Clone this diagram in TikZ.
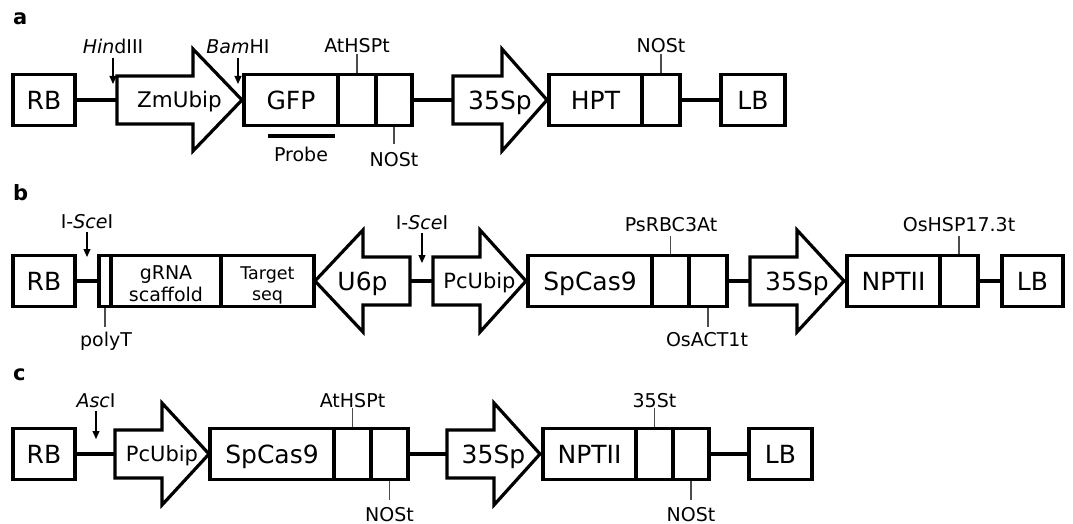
\documentclass[tikz,border=0pt]{standalone}
\usepackage{fontspec}
\setmainfont{DejaVu Sans}[ItalicFont={DejaVu Sans Oblique},BoldFont={DejaVu Sans Bold}]
\usetikzlibrary{arrows.meta}
\tikzset{
 cell/.style={draw, line width=3.2pt, inner sep=0pt, minimum height=51pt, font=\fontsize{25}{30}\selectfont, text height=18.2pt, text depth=0pt},
 promo/.style={draw, line width=3.2pt, line join=miter},
 ptext/.style={inner sep=0pt, font=\fontsize{21}{25}\selectfont, text height=15.3pt, text depth=0pt},
 ztext/.style={inner sep=0pt, font=\fontsize{21.5}{25}\selectfont, text height=15.7pt, text depth=0pt},
 bigtext/.style={inner sep=0pt, font=\fontsize{25}{30}\selectfont, text height=18.2pt, text depth=0pt},
 lbl/.style={inner sep=0pt, anchor=base, font=\fontsize{19}{22}\selectfont},
 slbl/.style={inner sep=0pt, anchor=base, font=\fontsize{17.5}{21}\selectfont},
 link/.style={line width=3.2pt},
 tick/.style={line width=1.3pt, draw=black!70},
 site/.style={line width=1.2pt, -{Triangle[length=8pt,width=7pt]}},
 probebar/.style={line width=4.5pt},
 panel/.style={inner sep=0pt, anchor=base west, font=\fontsize{21}{25}\selectfont\bfseries},
}
\newcommand\promright[7]{%
 \draw[promo] (#2,#5-24) -- (#3,#5-24) -- (#3,#5-51) -- (#4,#5) -- (#3,#5+51) -- (#3,#5+24) -- (#2,#5+24) -- cycle;
 \coordinate (#1T) at (#2,#5);
 \node[#6] (#1) at ({(#2+#4)/2},#5) {#7};}
\newcommand\promleft[7]{%
 \draw[promo] (#4,#5-24) -- (#3,#5-24) -- (#3,#5-51) -- (#2,#5) -- (#3,#5+51) -- (#3,#5+24) -- (#4,#5+24) -- cycle;
 \coordinate (#1T) at (#4,#5);
 \node[#6] (#1) at ({(#2+#4)/2},#5) {#7};}
\begin{document}
\begin{tikzpicture}[x=1pt,y=-1pt]
\useasboundingbox (0,0) rectangle (1073,524);
% ---------- row a ----------
\node[panel] (pa) at (13,25) {a};
\node[cell, minimum width=62pt] (aRB) at (44,100) {RB};
\promright{aZm}{117}{193}{242}{100}{ztext}{ZmUbip}
\node[cell, minimum width=94pt] (aGFP) at (291,100) {GFP};
\node[cell, minimum width=38pt] (aT1) at (357,100) {};
\node[cell, minimum width=36pt] (aT2) at (394,100) {};
\promright{aS}{453}{502}{547}{100}{bigtext}{35Sp}
\node[cell, minimum width=93pt] (aHPT) at (595.5,100) {HPT};
\node[cell, minimum width=38pt] (aT3) at (661,100) {};
\node[cell, minimum width=64pt] (aLB) at (753,100) {LB};
\draw[link] (aRB.east) -- (aZmT);
\draw[link] (aT2.east) -- (aST);
\draw[link] (aT3.east) -- (aLB.west);
\node[lbl] (hind) at (113,54) {\textit{Hin}dIII};
\coordinate (hindP) at (113,84);
\draw[site] ([yshift=-4pt]hind.base) -- (hindP);
\node[lbl] (bam) at (238,54) {\textit{Bam}HI};
\coordinate (bamP) at (238,84);
\draw[site] ([yshift=-4pt]bam.base) -- (bamP);
\node[lbl] (athspA) at (357,53) {AtHSPt};
\draw[tick] (aT1.north) -- ++(0,-19);
\node[lbl] (nosA1) at (394,166.5) {NOSt};
\draw[tick] (aT2.south) -- ++(0,17);
\coordinate (prL) at (268,136);
\coordinate (prR) at (335,136);
\draw[probebar] (prL) -- (prR);
\node[lbl] (probe) at (301,161) {Probe};
\node[lbl] (nosA2) at (661,53) {NOSt};
\draw[tick] (aT3.north) -- ++(0,-19);
% ---------- row b ----------
\node[panel] (pb) at (13,200) {b};
\node[cell, minimum width=62pt] (bRB) at (44,281) {RB};
\node[cell, minimum width=12pt] (bPT) at (105,281) {};
\node[cell, minimum width=110pt] (bG) at (166,281) {};
\node[cell, minimum width=93pt] (bTS) at (267.5,281) {};
\promleft{bU}{315}{363}{410}{281}{bigtext}{U6p}
\promright{bPc}{433}{480}{526}{281}{ptext}{PcUbip}
\node[cell, minimum width=124pt] (bCas) at (590,281) {SpCas9};
\node[cell, minimum width=37pt] (bT1) at (670.5,281) {};
\node[cell, minimum width=38pt] (bT2) at (708,281) {};
\promright{bS}{750}{797}{844}{281}{bigtext}{35Sp}
\node[cell, minimum width=93pt] (bNPT) at (893.5,281) {NPTII};
\node[cell, minimum width=38pt] (bT3) at (959,281) {};
\node[cell, minimum width=61pt] (bLB) at (1032.5,281) {LB};
\draw[link] (bRB.east) -- (bPT.west);
\draw[link] (bUT) -- (bPcT);
\draw[link] (bT2.east) -- (bST);
\draw[link] (bT3.east) -- (bLB.west);
\node[lbl] (isce1) at (87,228) {I-\textit{Sce}I};
\coordinate (isce1P) at (87,257);
\draw[site] ([yshift=-4pt]isce1.base) -- (isce1P);
\node[lbl] (polyT) at (106,346) {polyT};
\draw[tick] (bPT.south) -- ++(0,19);
\node[lbl] (gRNA) at (166,279) {gRNA};
\node[lbl] (scaf) at (166,301) {scaffold};
\node[slbl] (targ) at (267.5,279) {Target};
\node[slbl] (seq) at (267.5,300) {seq};
\node[lbl] (isce2) at (422,229) {I-\textit{Sce}I};
\coordinate (isce2P) at (422,263);
\draw[site] ([yshift=-4pt]isce2.base) -- (isce2P);
\node[lbl] (psrbc) at (671,231) {PsRBC3At};
\draw[tick] (bT1.north) -- ++(0,-18);
\node[lbl] (osact) at (707,346) {OsACT1t};
\draw[tick] (bT2.south) -- ++(0,19);
\node[lbl] (oshsp) at (959,231) {OsHSP17.3t};
\draw[tick] (bT3.north) -- ++(0,-18);
% ---------- row c ----------
\node[panel] (pc) at (13,380) {c};
\node[cell, minimum width=62pt] (cRB) at (44,454) {RB};
\promright{cPc}{115}{162}{209}{454}{ptext}{PcUbip}
\node[cell, minimum width=124pt] (cCas) at (272,454) {SpCas9};
\node[cell, minimum width=37pt] (cT1) at (352.5,454) {};
\node[cell, minimum width=37pt] (cT2) at (389.5,454) {};
\promright{cS}{447}{494}{540}{454}{bigtext}{35Sp}
\node[cell, minimum width=93pt] (cNPT) at (589.5,454) {NPTII};
\node[cell, minimum width=37pt] (cT3) at (654.5,454) {};
\node[cell, minimum width=36pt] (cT4) at (691,454) {};
\node[cell, minimum width=63pt] (cLB) at (780.5,454) {LB};
\draw[link] (cRB.east) -- (cPcT);
\draw[link] (cT2.east) -- (cST);
\draw[link] (cT4.east) -- (cLB.west);
\node[lbl] (asc) at (96,407) {\textit{Asc}I};
\coordinate (ascP) at (96,439);
\draw[site] ([yshift=-4pt]asc.base) -- (ascP);
\node[lbl] (athspC) at (352.5,407) {AtHSPt};
\draw[tick] (cT1.north) -- ++(0,-19);
\node[lbl] (nosC1) at (389.5,521) {NOSt};
\draw[tick] (cT2.south) -- ++(0,19);
\node[lbl] (st35) at (654.5,407) {35St};
\draw[tick] (cT3.north) -- ++(0,-19);
\node[lbl] (nosC2) at (691,521) {NOSt};
\draw[tick] (cT4.south) -- ++(0,19);
\end{tikzpicture}
\end{document}
